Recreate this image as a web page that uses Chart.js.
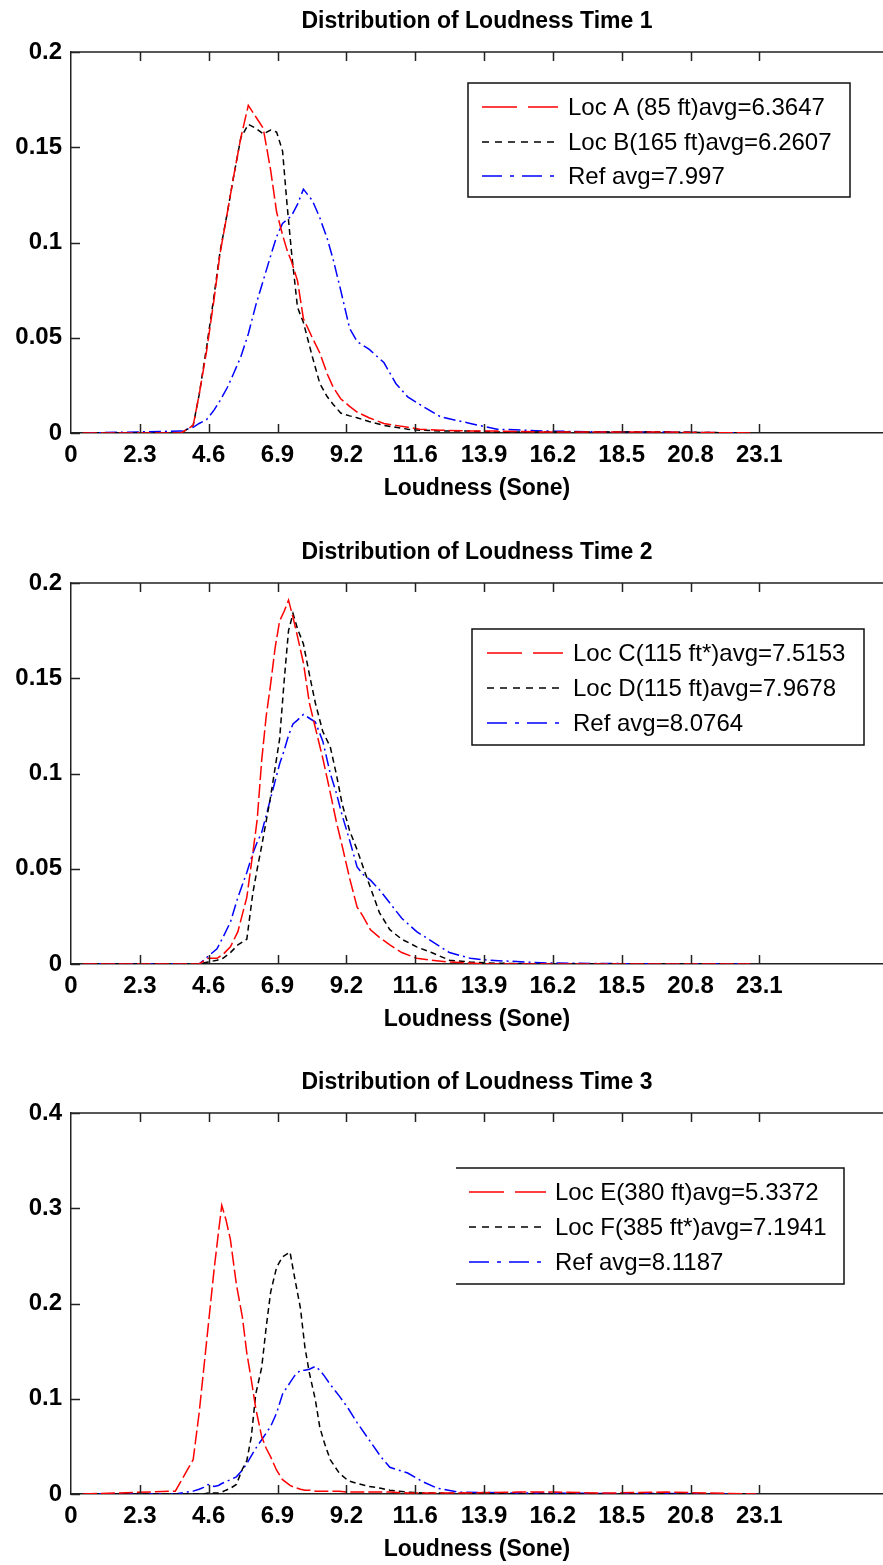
<!DOCTYPE html>
<html>
<head>
<meta charset="utf-8">
<script src="https://cdn.jsdelivr.net/npm/chart.js@4.4.1/dist/chart.umd.min.js"></script>
<style>
  body { margin: 0; background: #fff; }
  canvas { position: absolute; left: 0; }
</style>
</head>
<body>
<canvas id="c1" width="883" height="504" style="top:0px"></canvas>
<canvas id="c2" width="883" height="504" style="top:531px"></canvas>
<canvas id="c3" width="883" height="504" style="top:1061px"></canvas>
<script>
// x ticks (bin based, every 10 bins)
const xTickValues = [0, 2.31, 4.62, 6.93, 9.24, 11.55, 13.86, 16.17, 18.48, 20.79, 23.1];
const xTickLabels = ['0', '2.3', '4.6', '6.9', '9.2', '11.6', '13.9', '16.2', '18.5', '20.8', '23.1'];

// Time 1
const time1Loudness = [0.4, 3.7, 4.1, 4.3, 4.55, 4.8, 5.0, 5.25, 5.45, 5.7, 5.95, 6.2, 6.45, 6.7, 6.9, 7.1, 7.25, 7.4, 7.6, 7.8, 8.1, 8.35, 8.6, 8.8, 9.05, 9.35, 9.6, 10.0, 10.5, 10.9, 11.3, 11.7, 12.4, 13.4, 14.3, 16, 18, 20, 22.8];
const time1LocA = [0, 0, 0.004, 0.02, 0.043, 0.07, 0.094, 0.116, 0.134, 0.155, 0.172, 0.166, 0.16, 0.138, 0.116, 0.104, 0.096, 0.09, 0.08, 0.06, 0.05, 0.042, 0.031, 0.024, 0.018, 0.014, 0.011, 0.008, 0.005, 0.004, 0.003, 0.002, 0.0015, 0.001, 0.001, 0.0005, 0.0005, 0.0005, 0];
const time1LocB = [0, 0, 0.004, 0.02, 0.045, 0.072, 0.095, 0.116, 0.134, 0.155, 0.162, 0.16, 0.157, 0.159, 0.158, 0.148, 0.12, 0.095, 0.066, 0.058, 0.04, 0.026, 0.019, 0.015, 0.0105, 0.009, 0.008, 0.006, 0.004, 0.003, 0.002, 0.0015, 0.001, 0.001, 0.0005, 0.0005, 0.0005, 0.0005, 0];
const time1Ref = [0, 0.001, 0.003, 0.005, 0.007, 0.012, 0.017, 0.024, 0.031, 0.04, 0.052, 0.067, 0.08, 0.093, 0.103, 0.11, 0.112, 0.114, 0.12, 0.128, 0.122, 0.113, 0.102, 0.091, 0.075, 0.055, 0.048, 0.044, 0.037, 0.026, 0.019, 0.015, 0.0085, 0.005, 0.002, 0.001, 0.0005, 0.0005, 0];
const time1Labels = ['Loc A (85 ft)avg=6.3647', 'Loc B(165 ft)avg=6.2607', 'Ref avg=7.997'];

// Time 2
const time2Loudness = [0.4, 4.3, 4.6, 4.9, 5.1, 5.35, 5.6, 5.9, 6.1, 6.25, 6.4, 6.55, 6.7, 6.85, 7.0, 7.15, 7.3, 7.45, 7.6, 7.8, 8.0, 8.2, 8.45, 8.7, 8.9, 9.1, 9.35, 9.6, 9.8, 10.05, 10.35, 10.7, 11.1, 11.6, 12.1, 12.7, 13.4, 14.0, 16, 20, 22.8];
const time2LocC = [0, 0, 0.003, 0.003, 0.005, 0.009, 0.017, 0.035, 0.058, 0.076, 0.107, 0.13, 0.147, 0.166, 0.18, 0.185, 0.191, 0.182, 0.172, 0.158, 0.137, 0.124, 0.108, 0.09, 0.075, 0.062, 0.045, 0.03, 0.025, 0.018, 0.014, 0.01, 0.006, 0.003, 0.002, 0.001, 0.0005, 0, 0, 0, 0];
const time2LocD = [0, 0, 0.001, 0.002, 0.003, 0.006, 0.01, 0.013, 0.037, 0.05, 0.062, 0.075, 0.088, 0.103, 0.118, 0.148, 0.175, 0.184, 0.176, 0.168, 0.152, 0.137, 0.122, 0.114, 0.1, 0.084, 0.07, 0.06, 0.051, 0.04, 0.027, 0.018, 0.013, 0.009, 0.006, 0.002, 0.001, 0.0005, 0, 0, 0];
const time2Ref = [0, 0, 0.004, 0.008, 0.014, 0.022, 0.035, 0.048, 0.058, 0.064, 0.069, 0.078, 0.087, 0.096, 0.105, 0.112, 0.12, 0.126, 0.128, 0.131, 0.129, 0.127, 0.117, 0.1, 0.09, 0.078, 0.065, 0.051, 0.047, 0.044, 0.039, 0.032, 0.024, 0.017, 0.012, 0.006, 0.003, 0.002, 0.0005, 0, 0];
const time2Labels = ['Loc C(115 ft*)avg=7.5153', 'Loc D(115 ft)avg=7.9678', 'Ref avg=8.0764'];

// Time 3
const time3Loudness = [0.4, 3.5, 3.9, 4.1, 4.3, 4.45, 4.6, 4.8, 4.95, 5.06, 5.2, 5.35, 5.55, 5.75, 5.9, 6.05, 6.2, 6.4, 6.55, 6.7, 6.9, 7.1, 7.35, 7.5, 7.7, 7.85, 8.0, 8.2, 8.35, 8.5, 8.7, 9.0, 9.3, 9.6, 10.0, 10.4, 10.7, 11.3, 11.8, 12.3, 13.0, 15, 16.2, 18, 20, 23];
const time3LocE = [0, 0.003, 0.025, 0.036, 0.085, 0.13, 0.175, 0.235, 0.275, 0.303, 0.288, 0.267, 0.22, 0.186, 0.148, 0.12, 0.09, 0.06, 0.048, 0.039, 0.025, 0.015, 0.009, 0.007, 0.005, 0.004, 0.004, 0.003, 0.003, 0.003, 0.003, 0.003, 0.002, 0.002, 0.002, 0.002, 0.002, 0.001, 0.001, 0.001, 0.001, 0.002, 0.002, 0.001, 0.002, 0];
const time3LocF = [0, 0, 0, 0, 0, 0, 0.001, 0.001, 0.001, 0.002, 0.004, 0.006, 0.01, 0.026, 0.035, 0.06, 0.105, 0.133, 0.175, 0.212, 0.238, 0.249, 0.254, 0.228, 0.195, 0.154, 0.127, 0.099, 0.07, 0.054, 0.036, 0.022, 0.014, 0.011, 0.008, 0.006, 0.004, 0.002, 0.001, 0.001, 0.0005, 0, 0, 0, 0, 0];
const time3Ref = [0, 0, 0.002, 0.003, 0.005, 0.007, 0.01, 0.008, 0.009, 0.011, 0.013, 0.015, 0.018, 0.025, 0.032, 0.04, 0.048, 0.057, 0.064, 0.071, 0.085, 0.105, 0.117, 0.124, 0.13, 0.13, 0.131, 0.134, 0.13, 0.124, 0.115, 0.103, 0.09, 0.075, 0.057, 0.039, 0.028, 0.022, 0.013, 0.006, 0.002, 0.001, 0.001, 0.0005, 0.0005, 0];
const time3Labels = ['Loc E(380 ft)avg=5.3372', 'Loc F(385 ft*)avg=7.1941', 'Ref avg=8.1187'];

const BOLD = "'Liberation Sans', Arial, sans-serif";

// MATLAB-like frame: top line + inward tick marks
const frameTicks = {
  id: 'frameTicks',
  afterDraw(chart) {
    const {ctx, chartArea: a, scales: {x, y}} = chart;
    ctx.save();
    ctx.strokeStyle = '#222';
    ctx.lineWidth = 1.5;
    ctx.beginPath();
    ctx.moveTo(a.left, a.top);
    ctx.lineTo(a.right, a.top);
    x.ticks.forEach(t => {
      const px = Math.round(x.getPixelForValue(t.value)) + 0.5;
      if (t.value === 0) return;
      ctx.moveTo(px, a.bottom); ctx.lineTo(px, a.bottom - 9);
      ctx.moveTo(px, a.top); ctx.lineTo(px, a.top + 9);
    });
    y.ticks.forEach(t => {
      const py = Math.round(y.getPixelForValue(t.value)) + 0.5;
      ctx.moveTo(a.left, py); ctx.lineTo(a.left + 9, py);
    });
    ctx.stroke();
    ctx.restore();
  }
};

// boxed legend drawn inside the axes
const boxLegend = {
  id: 'boxLegend',
  afterDraw(chart, args, o) {
    const {ctx} = chart;
    ctx.save();
    ctx.fillStyle = '#fff';
    ctx.fillRect(o.left, o.top, o.width, o.height);
    ctx.strokeStyle = '#111';
    ctx.lineWidth = 1.5;
    ctx.beginPath();
    if (o.noLeft) {
      ctx.moveTo(o.left, o.top);
      ctx.lineTo(o.left + o.width, o.top);
      ctx.lineTo(o.left + o.width, o.top + o.height);
      ctx.lineTo(o.left, o.top + o.height);
    } else {
      ctx.rect(o.left, o.top, o.width, o.height);
    }
    ctx.stroke();
    ctx.font = "24px 'Liberation Sans', Arial, sans-serif";
    ctx.textBaseline = 'middle';
    chart.data.datasets.forEach((ds, i) => {
      const yy = o.rows[i];
      ctx.strokeStyle = ds.borderColor;
      ctx.lineWidth = 1.5;
      ctx.setLineDash(ds.legendDash);
      ctx.beginPath();
      ctx.moveTo(o.sample0, yy);
      ctx.lineTo(o.sample1, yy);
      ctx.stroke();
      ctx.setLineDash([]);
      ctx.fillStyle = '#000';
      ctx.fillText(ds.label, o.textX, yy + 1);
    });
    ctx.restore();
  }
};

function makeChart(id, title, loudness, series, labels, yMax, yStep, legend) {
  const colors = ['#ff0000', '#000000', '#0000ff'];
  const dashes = [[14, 4], [6, 4], [12, 4, 2, 4]];
  const legendDashes = [[35, 11], [7, 6], [20, 8, 4, 8]];
  return new Chart(document.getElementById(id), {
    type: 'line',
    data: {
      datasets: series.map((vals, i) => ({
        label: labels[i],
        data: loudness.map((lx, k) => ({x: lx, y: vals[k]})),
        borderColor: colors[i],
        borderWidth: 1.5,
        borderDash: dashes[i],
        pointRadius: 0,
        tension: 0,
        fill: false,
        legendDash: legendDashes[i]
      }))
    },
    options: {
      responsive: false,
      animation: false,
      layout: {padding: 0},
      plugins: {
        legend: {display: false},
        tooltip: {enabled: false},
        title: {
          display: true,
          text: title,
          fullSize: false,
          color: '#000',
          font: {family: BOLD, size: 23, weight: 'bold'},
          padding: {top: 8, bottom: 16.4}
        },
        boxLegend: legend
      },
      scales: {
        x: {
          type: 'linear',
          min: 0,
          max: 27.25,
          afterBuildTicks(s) { s.ticks = xTickValues.map(v => ({value: v})); },
          afterFit(s) { s.height = 71; },
          grid: {drawOnChartArea: false, drawTicks: false},
          border: {display: true, color: '#222', width: 1.5},
          ticks: {
            autoSkip: false,
            maxRotation: 0,
            padding: 8,
            color: '#000',
            font: {family: BOLD, size: 24, weight: 'bold'},
            callback: (v, i) => xTickLabels[i]
          },
          title: {
            display: true,
            text: 'Loudness (Sone)',
            color: '#000',
            font: {family: BOLD, size: 23, weight: 'bold'},
            padding: {top: 0, bottom: 2}
          }
        },
        y: {
          min: 0,
          max: yMax,
          afterFit(s) { s.width = 71; },
          grid: {drawOnChartArea: false, drawTicks: false},
          border: {display: true, color: '#222', width: 1.5},
          ticks: {
            stepSize: yStep,
            padding: 9,
            color: '#000',
            font: {family: BOLD, size: 24, weight: 'bold'},
            callback: v => String(+v.toFixed(3))
          }
        }
      }
    },
    plugins: [frameTicks, boxLegend]
  });
}

makeChart('c1', 'Distribution of Loudness Time 1', time1Loudness,
  [time1LocA, time1LocB, time1Ref], time1Labels, 0.2, 0.05,
  {left: 468, top: 83, width: 382, height: 114, rows: [107, 142, 176], sample0: 482, sample1: 558, textX: 568});
makeChart('c2', 'Distribution of Loudness Time 2', time2Loudness,
  [time2LocC, time2LocD, time2Ref], time2Labels, 0.2, 0.05,
  {left: 472, top: 98, width: 392, height: 116, rows: [122, 157, 192], sample0: 487, sample1: 563, textX: 573});
makeChart('c3', 'Distribution of Loudness Time 3', time3Loudness,
  [time3LocE, time3LocF, time3Ref], time3Labels, 0.4, 0.1,
  {left: 456, top: 107, width: 388, height: 116, rows: [131, 166, 201], sample0: 469, sample1: 546, textX: 555, noLeft: true});
</script>
</body>
</html>
